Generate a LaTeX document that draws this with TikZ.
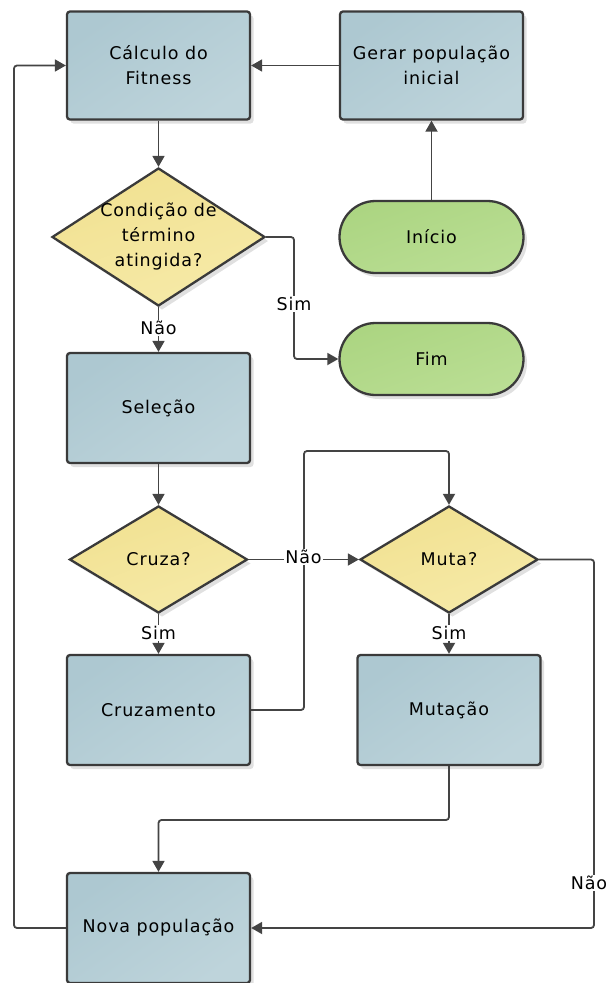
\documentclass[tikz,border=0pt]{standalone}
\usepackage{fontspec}
\setmainfont{DejaVu Sans}[LetterSpace=5]
\usetikzlibrary{shapes.geometric,arrows.meta,shadows}
\definecolor{boxA}{RGB}{173,200,209}
\definecolor{boxB}{RGB}{190,212,219}
\definecolor{diaA}{RGB}{241,225,145}
\definecolor{diaB}{RGB}{246,234,168}
\definecolor{grnA}{RGB}{172,213,130}
\definecolor{grnB}{RGB}{186,222,148}
\definecolor{edgec}{RGB}{58,58,58}
\definecolor{wirec}{RGB}{68,68,68}
\begin{document}
\begin{tikzpicture}[x=1pt,y=-1pt,
  every node/.style={font=\fontsize{17.5}{25}\selectfont,text=black},
  shad/.style={drop shadow={shadow xshift=3.5pt,shadow yshift=-4pt,fill=black!35,opacity=0.35}},
  proc/.style={draw=edgec,line width=2.3pt,rounded corners=3pt,minimum width=183pt,minimum height=108pt,inner sep=0pt,align=center,top color=boxA,bottom color=boxB,shading angle=35,shad},
  term/.style={draw=edgec,line width=2.3pt,rounded corners=36pt,minimum width=184pt,minimum height=72pt,inner sep=0pt,top color=grnA,bottom color=grnB,shading angle=20,shad},
  dia/.style={diamond,draw=edgec,line width=2.3pt,inner sep=0pt,top color=diaA,bottom color=diaB,shading angle=20,shad},
  txt/.style={align=center,inner sep=0pt},
  wire/.style={draw=wirec,line width=1.8pt,rounded corners=3pt},
  arr/.style={wire,-{Triangle[length=11pt,width=12pt]}},
  lab/.style={fill=white,inner sep=1.5pt}]
\useasboundingbox (0,0) rectangle (609,983);

% nodes
\node[proc] (calc) at (158.5,65.5) {Cálculo do\\Fitness};
\node[proc] (gerar) at (431.5,65.5) {Gerar população\\inicial};
\node[term] (inicio) at (431.5,237) {Início};
\node[term] (fim) at (431.5,359) {Fim};
\node[dia,minimum width=213pt,minimum height=138pt] (cond) at (158.5,237) {};
\node[txt] (condtxt) at (cond.center) {Condição de\\término\\atingida?};
\node[proc,minimum height=110pt] (sel) at (158.5,408) {Seleção};
\node[dia,minimum width=178pt,minimum height=107pt] (cruza) at (158.5,559.5) {Cruza?};
\node[dia,minimum width=178pt,minimum height=107pt] (muta) at (449,559.5) {Muta?};
\node[proc,minimum height=110pt] (cruzb) at (158.5,710) {Cruzamento};
\node[proc,minimum height=110pt] (mutb) at (449,710) {Mutação};
\node[proc,minimum height=110pt] (nova) at (158.5,928) {Nova população};

% connectors
\draw[arr] (gerar.west) -- (calc.east);
\draw[arr] (inicio.north) -- (gerar.south);
\draw[arr] (calc.south) -- (cond.north);
\draw[arr] (cond.east) -| (294,304) |- (fim.west);
\draw[arr] (cond.south) -- (sel.north);
\draw[arr] (sel.south) -- (cruza.north);
\draw[arr] (cruzb.east) -- (304,710) -- (304,451) -- (449,451) -- (muta.north);
\draw[arr] (cruza.east) -- (muta.west);
\draw[arr] (cruza.south) -- (cruzb.north);
\draw[arr] (muta.south) -- (mutb.north);
\draw[arr] (mutb.south) -- (449,820) -- (158.5,820) -- (nova.north);
\draw[arr] (muta.east) -- (594,559.5) -- (594,928) -- (nova.east);
\draw[arr] (nova.west) -- (14,928) -- (14,65.5) -- (calc.west);

% labels
\node[lab] (lsim1) at (294,304) {Sim};
\node[lab] (lnao1) at (158.5,328) {Não};
\node[lab] (lnao2) at (303.5,557) {Não};
\node[lab] (lsim2) at (158.5,633) {Sim};
\node[lab] (lsim3) at (449,633) {Sim};
\node[lab] (lnao3) at (589,883) {Não};
\end{tikzpicture}
\end{document}
